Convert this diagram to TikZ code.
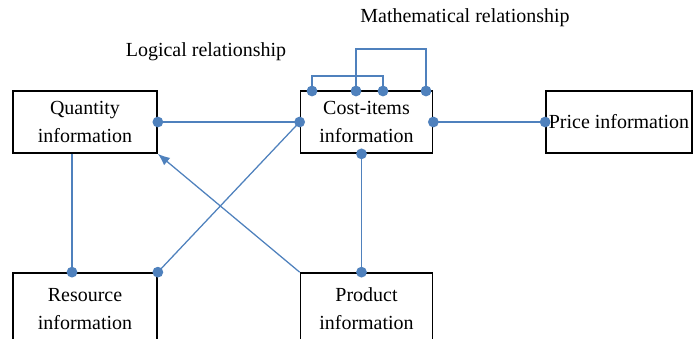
\documentclass[tikz,border=0pt]{standalone}
\usepackage{fontspec}
\setmainfont{Liberation Serif}
\usetikzlibrary{arrows.meta}
\definecolor{linkblue}{RGB}{79,129,189}

\begin{document}
\begin{tikzpicture}[
        x=0.025cm, y=-0.025cm,
        every node/.style={font=\fontsize{14.2}{20}\selectfont},
        box/.style={draw, line width=1.2pt, align=center, inner sep=0pt, minimum width=3.6cm, minimum height=1.55cm},
        dot/.style={circle, fill=linkblue, inner sep=0pt, minimum size=0.27cm},
        link/.style={draw=linkblue, line width=0.9pt},
        arrow/.style={-{Latex[length=0.3cm, width=0.24cm]}, draw=linkblue, line width=0.9pt}
    ]
    \useasboundingbox (0,0) rectangle (693,338);
    \clip (0,0) rectangle (693,338);

    % Nodes
    \node[box] (qty) at (85,122) {Quantity\\information};
    \node[box, minimum width=3.3cm] (cost) at (366.5,122) {Cost-items\\information};
    \node[box, minimum width=3.65cm] (price) at (619,122) {Price information};
    \node[box, minimum height=1.8cm] (res) at (85,309) {Resource\\information};
    \node[box, minimum width=3.3cm, minimum height=1.8cm] (prod) at (366.5,309) {Product\\information};
    \node (mathlbl) at (465,18) {Mathematical relationship};
    \node (logiclbl) at (206,52) {Logical relationship};

    % points on top of cost-items
    \coordinate (m1) at (312,91);
    \coordinate (m2) at (356,91);
    \coordinate (m3) at (383,91);
    \coordinate (m4) at (426,91);

    % Connections
    \draw[link] (qty.east) -- (cost.west);
    \draw[link] (cost.east) -- (price.west);
    \draw[link] ([xshift=-0.325cm]qty.south) -- ([xshift=-0.325cm]res.north);
    \draw[link] ([xshift=-0.125cm]cost.south) -- ([xshift=-0.125cm]prod.north);
    \draw[link] (res.north east) -- (cost.west);
    \draw[arrow] (prod.north west) -- (qty.south east);
    \draw[link] (m1) -- ++(0,-15) -| (m3);
    \draw[link] (m2) -- ++(0,-42) -| (m4);

    % Dots
    \node[dot] at (qty.east) {};
    \node[dot] at (cost.west) {};
    \node[dot] at (cost.east) {};
    \node[dot] at (price.west) {};
    \node[dot] at ([xshift=-0.325cm]res.north) {};
    \node[dot] at (res.north east) {};
    \node[dot] at ([xshift=-0.125cm]cost.south) {};
    \node[dot] at ([xshift=-0.125cm]prod.north) {};
    \foreach \m in {m1,m2,m3,m4}
        \node[dot] at (\m) {};

\end{tikzpicture}
\end{document}
